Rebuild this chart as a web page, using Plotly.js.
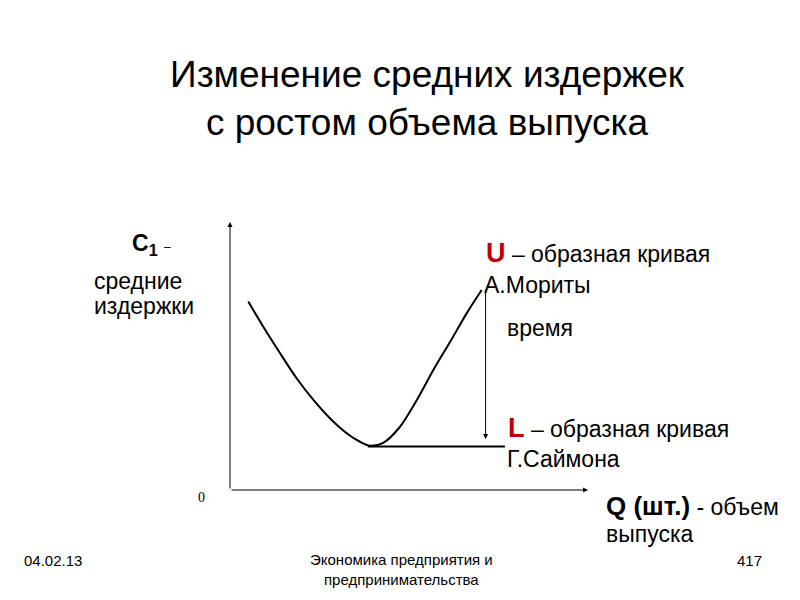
<!DOCTYPE html>
<html>
<head>
<meta charset="utf-8">
<script src="https://cdn.plot.ly/plotly-3.0.1.min.js"></script>
<style>html,body{margin:0;padding:0;background:#fff;}#chart{width:800px;height:600px;}</style>
</head>
<body>
<div id="chart"></div>
<script>
// U-shaped average cost curve
const curveQ = [5.1, 9.3, 14.0, 18.6, 23.3, 27.9, 32.6, 36.3, 39.1, 42.8, 47.5, 52.2, 56.8, 61.5, 66.1, 70.3];
const curveC = [70.3, 60.9, 51.0, 41.7, 33.6, 26.8, 21.2, 18.0, 16.5, 17.6, 23.6, 33.6, 44.8, 55.3, 65.9, 74.6];
// L-shaped curve (flat long-run level)
const lineQ = [38.5, 76.8];
const lineC = [16.2, 16.2];
// time arrow from U top down to L level
const arrowQ = 71.4;
const arrowFrom = 75.0;
const arrowTo = 19.0;

const FONT = 'Liberation Sans, Arial, sans-serif';
const L = 230, R = 588, T = 222, B = 490;
const px = x => (x - L) / (R - L);
const py = y => (B - y) / (B - T);

function txt(x, y, text, size, opts) {
  return Object.assign({
    xref: 'paper', yref: 'paper', x: px(x), y: py(y), text: text,
    showarrow: false, xanchor: 'left', yanchor: 'middle',
    font: {family: FONT, size: size, color: '#000'}
  }, opts || {});
}
function arrow(x, y, ax, ay) {
  return {x: x, y: y, ax: ax, ay: ay, xref: 'x', yref: 'y', axref: 'x', ayref: 'y',
    showarrow: true, arrowhead: 2, arrowsize: 1, arrowwidth: 1, arrowcolor: '#000', text: ''};
}

const traces = [
  {x: curveQ, y: curveC, mode: 'lines', line: {color: '#000', width: 2, shape: 'spline', smoothing: 0.8}, hoverinfo: 'skip'},
  {x: lineQ, y: lineC, mode: 'lines', line: {color: '#000', width: 2}, hoverinfo: 'skip'}
];

const NARROW = 'Liberation Sans Narrow, Liberation Sans, sans-serif';
const annotations = [
  arrow(0, 100, 0, 0),
  arrow(100, 0, 0, 0),
  arrow(arrowQ, arrowTo, arrowQ, arrowFrom),
  txt(130, 244, '<b>C<sub>1</sub></b> <span style="font-size:12px">–</span>', 23),
  txt(92, 281, 'средние', 23),
  txt(92, 306, 'издержки', 23),
  txt(484, 253, '<b><span style="color:#c00000;font-size:27px">U</span></b> – образная кривая', 23),
  txt(482, 285, 'А.Мориты', 23),
  txt(505, 328, 'время', 23),
  txt(506, 428, '<b><span style="color:#c00000;font-size:27px">L</span></b> – образная кривая', 23),
  txt(505, 459, 'Г.Саймона', 23),
  txt(604, 506, '<b><span style="font-size:26px">Q (шт.)</span></b> - объем', 23),
  txt(604, 534, 'выпуска', 23),
  txt(196, 497, '0', 14, {font: {family: 'Liberation Serif, serif', size: 14, color: '#000'}}),
  txt(22, 560, '04.02.13', 15, {font: {family: NARROW, size: 15, color: '#000'}}),
  txt(401, 569, 'Экономика предприятия и<br>предпринимательства', 15, {xanchor: 'center', font: {family: NARROW, size: 15, color: '#000'}}),
  txt(735, 560, '417', 15, {font: {family: NARROW, size: 15, color: '#000'}})
];

const layout = {
  width: 800, height: 600,
  margin: {l: L, r: 800 - R, t: T, b: 600 - B, pad: 0},
  paper_bgcolor: '#fff', plot_bgcolor: '#fff',
  showlegend: false,
  title: {
    text: 'Изменение средних издержек<br>с ростом объема выпуска',
    x: 427 / 800, xanchor: 'center', xref: 'container',
    y: 1 - 87 / 600, yanchor: 'middle', yref: 'container',
    font: {family: FONT, size: 37, color: '#000'}
  },
  xaxis: {range: [0, 100], visible: false, fixedrange: true},
  yaxis: {range: [0, 100], visible: false, fixedrange: true},
  annotations: annotations
};

Plotly.newPlot('chart', traces, layout, {displayModeBar: false, staticPlot: true});
</script>
</body>
</html>
